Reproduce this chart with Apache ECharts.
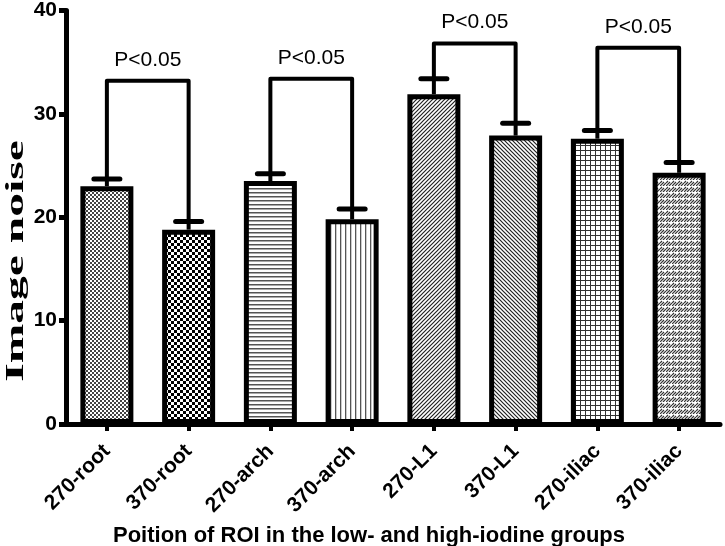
<!DOCTYPE html>
<html>
<head>
<meta charset="utf-8">
<script src="https://cdn.jsdelivr.net/npm/echarts@6/dist/echarts.min.js"></script>
<style>html,body{margin:0;padding:0;background:#fff;}#c{width:725px;height:546px;}</style>
</head>
<body>
<div id="c"></div>
<script>
// ---- data ----
const categories = ['270-root','370-root','270-arch','370-arch','270-L1','370-L1','270-iliac','370-iliac'];
const means = [23.0, 18.8, 23.5, 19.8, 31.9, 27.9, 27.6, 24.3];
const sems  = [0.7, 0.8, 0.7, 1.0, 1.5, 1.2, 0.8, 1.0];
const pairLeft  = [0, 2, 4, 6];
const pairRight = [1, 3, 5, 7];
const bracketHeights = [33.2, 33.4, 36.8, 36.4];
const pLabels = ['P<0.05','P<0.05','P<0.05','P<0.05'];
const yTitle = 'Image noise';
const xTitle = 'Poition of ROI in the low- and high-iodine groups';

// ---- fill patterns (style) ----
const patternKinds = ['fineCheck','check','hlines','vlines','diagUp','diagDown','grid','dashDiag'];
function makePattern(kind){
  const c = document.createElement('canvas');
  let w = 4, h = 4;
  if (kind==='check'){w=6;h=6;}
  if (kind==='vlines'){w=5;h=5;}
  if (kind==='grid'){w=5;h=5;}
  if (kind==='dashDiag'){w=6;h=6;}
  c.width=w; c.height=h;
  const g = c.getContext('2d');
  g.fillStyle='#fff'; g.fillRect(0,0,w,h);
  g.fillStyle='#000'; g.strokeStyle='#000';
  if (kind==='fineCheck'){ g.fillStyle='#444'; g.fillRect(0,0,2,2); g.fillRect(2,2,2,2); }
  else if (kind==='check'){ g.fillRect(0,0,3,3); g.fillRect(3,3,3,3); }
  else if (kind==='hlines'){ g.fillStyle='#555'; g.fillRect(0,0,w,1.5); }
  else if (kind==='vlines'){ g.fillStyle='#555'; g.fillRect(0,0,1.3,h); }
  else if (kind==='diagUp'){ g.lineWidth=1.2; g.strokeStyle='#222'; g.beginPath(); g.moveTo(0,h); g.lineTo(w,0); g.moveTo(-1,1); g.lineTo(1,-1); g.moveTo(w-1,h+1); g.lineTo(w+1,h-1); g.stroke(); }
  else if (kind==='diagDown'){ g.lineWidth=1.2; g.strokeStyle='#222'; g.beginPath(); g.moveTo(0,0); g.lineTo(w,h); g.moveTo(w-1,-1); g.lineTo(w+1,1); g.moveTo(-1,h-1); g.lineTo(1,h+1); g.stroke(); }
  else if (kind==='grid'){ g.fillStyle='#333'; g.fillRect(0,0,w,1); g.fillRect(0,0,1,h); }
  else if (kind==='dashDiag'){ g.lineWidth=1.2; g.strokeStyle='#333'; g.beginPath(); g.moveTo(0,6); g.lineTo(4,2); g.moveTo(3,6); g.lineTo(6,3); g.moveTo(0,3); g.lineTo(2,1); g.stroke(); }
  return {image: c, repeat: 'repeat'};
}
const patterns = patternKinds.map(makePattern);

const chart = echarts.init(document.getElementById('c'), null, {renderer:'canvas'});
const barData = means.map((v,i)=>({value:v, itemStyle:{color:patterns[i]}}));
const errData = means.map((v,i)=>[i, v, v + sems[i]]);
const brData = pairLeft.map((l,k)=>[l, pairRight[k], bracketHeights[k], means[l]+sems[l], means[pairRight[k]]+sems[pairRight[k]], k]);

chart.setOption({
  animation:false,
  grid:{left:66, top:9, width:654, bottom:122, containLabel:false},
  xAxis:{
    type:'category', data:categories,
    axisLine:{lineStyle:{color:'#000', width:5}},
    axisTick:{show:true, alignWithLabel:true, length:7, lineStyle:{color:'#000', width:4}},
    axisLabel:{rotate:45, interval:0, margin:24, color:'#000', fontFamily:'Liberation Sans, Arial', fontWeight:'bold', fontSize:21}
  },
  yAxis:{
    type:'value', min:0, max:40, interval:10,
    axisLine:{show:true, lineStyle:{color:'#000', width:5}},
    axisTick:{show:true, length:7, lineStyle:{color:'#000', width:5}},
    axisLabel:{margin:9, color:'#000', fontFamily:'Liberation Sans, Arial', fontWeight:'bold', fontSize:21},
    splitLine:{show:false}
  },
  graphic:[{
    type:'text', x:17, y:261, rotation:Math.PI/2, scaleX:1.9,
    style:{text:yTitle, textAlign:'center', textVerticalAlign:'middle', fill:'#000',
      fontFamily:'Liberation Serif, Times New Roman', fontWeight:'bold', fontSize:25}
  },{
    type:'text', x:369, y:536,
    style:{text:xTitle, textAlign:'center', textVerticalAlign:'middle', fill:'#000',
      fontFamily:'Liberation Sans, Arial', fontWeight:'bold', fontSize:22}
  }],
  series:[
    {type:'bar', data:barData, barWidth:53, z:2,
     itemStyle:{borderColor:'#000', borderWidth:5}},
    {type:'custom', data:errData, z:3,
     renderItem:function(params, api){
       const p0 = api.coord([api.value(0), api.value(1)]);
       const p1 = api.coord([api.value(0), api.value(2)]);
       return {type:'group', children:[
         {type:'line', shape:{x1:p0[0], y1:p0[1], x2:p1[0], y2:p1[1]}, style:{stroke:'#000', lineWidth:4}},
         {type:'line', shape:{x1:p1[0]-13, y1:p1[1], x2:p1[0]+13, y2:p1[1]}, style:{stroke:'#000', lineWidth:5, lineCap:'round'}}
       ]};
     }},
    {type:'custom', data:brData, z:3,
     renderItem:function(params, api){
       const a = api.coord([api.value(0), api.value(3)]);
       const b = api.coord([api.value(0), api.value(2)]);
       const c = api.coord([api.value(1), api.value(2)]);
       const d = api.coord([api.value(1), api.value(4)]);
       return {type:'group', children:[
         {type:'polyline', shape:{points:[a,b,c,d]}, style:{stroke:'#000', lineWidth:4, fill:null, lineJoin:'round', lineCap:'round'}},
         {type:'text', style:{text:pLabels[api.value(5)], x:(b[0]+c[0])/2, y:b[1]-21, textAlign:'center', textVerticalAlign:'middle',
           fill:'#000', fontFamily:'Liberation Sans, Arial', fontSize:21}}
       ]};
     }}
  ]
});
</script>
</body>
</html>
